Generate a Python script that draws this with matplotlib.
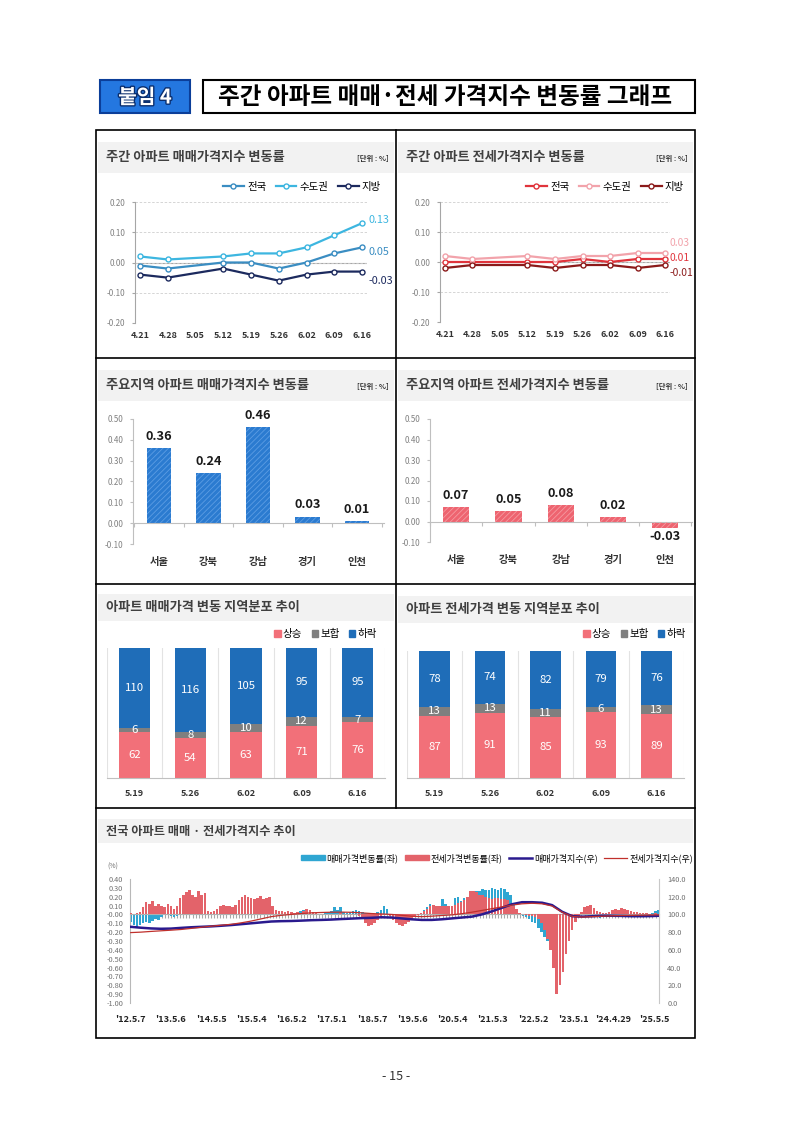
import numpy as np
import matplotlib
matplotlib.use('Agg')
import matplotlib.pyplot as plt
import matplotlib.patheffects as pe
from matplotlib.patches import Rectangle, Patch
from matplotlib.lines import Line2D
from matplotlib.ticker import MultipleLocator, NullLocator, FormatStrFormatter

plt.rcParams['font.family'] = ['Noto Sans CJK KR', 'DejaVu Sans']
plt.rcParams['axes.unicode_minus'] = False
plt.rcParams['hatch.linewidth'] = 0.6

# ---- weekly change rates (%), 5.05 not surveyed ----
weeks = ['4.21', '4.28', '5.05', '5.12', '5.19', '5.26', '6.02', '6.09', '6.16']
sale_nation = [-0.01, -0.02, None, 0.00, 0.00, -0.02, 0.00, 0.03, 0.05]
sale_capital = [0.02, 0.01, None, 0.02, 0.03, 0.03, 0.05, 0.09, 0.13]
sale_local = [-0.04, -0.05, None, -0.02, -0.04, -0.06, -0.04, -0.03, -0.03]
jeonse_nation = [0.00, 0.00, None, 0.00, 0.00, 0.01, 0.00, 0.01, 0.01]
jeonse_capital = [0.02, 0.01, None, 0.02, 0.01, 0.02, 0.02, 0.03, 0.03]
jeonse_local = [-0.02, -0.01, None, -0.01, -0.02, -0.01, -0.01, -0.02, -0.01]
line_names = ['전국', '수도권', '지방']

# ---- main regions ----
regions = ['서울', '강북', '강남', '경기', '인천']
sale_region = [0.36, 0.24, 0.46, 0.03, 0.01]
jeonse_region = [0.07, 0.05, 0.08, 0.02, -0.03]

# ---- number of regions up / flat / down ----
dist_weeks = ['5.19', '5.26', '6.02', '6.09', '6.16']
sale_up = [62, 54, 63, 71, 76]
sale_flat = [6, 8, 10, 12, 7]
sale_down = [110, 116, 105, 95, 95]
jeonse_up = [87, 91, 85, 93, 89]
jeonse_flat = [13, 13, 11, 6, 13]
jeonse_down = [78, 74, 82, 79, 76]

# ---- long-run series, week 0 = 2012.5.7 ----
rate_step = 4   # rates read every 4 weeks
sale_rate = [
    -0.08, -0.12, -0.15, -0.12, -0.10, -0.08, -0.10, -0.07, -0.05, -0.06, -0.03, -0.01, 0.01,
    -0.02, -0.03, -0.02, 0.01, 0.02, 0.04, 0.05, 0.04, 0.03, 0.06, 0.08, 0.07, 0.02,
    0.01, 0.02, 0.03, 0.06, 0.09, 0.07, 0.06, 0.04, 0.05, 0.08, 0.10, 0.14, 0.12,
    0.10, 0.10, 0.12, 0.13, 0.10, 0.12, 0.09, 0.04, 0.02, 0.01, 0.01, 0.01, 0.02,
    0.02, 0.02, 0.03, 0.04, 0.05, 0.06, 0.04, 0.02, 0.01, 0.01, 0.01, 0.02, 0.03,
    0.04, 0.08, 0.05, 0.08, 0.03, 0.02, 0.03, 0.04, 0.05, 0.04, 0.03, 0.02, 0.02,
    0.01, 0.01, 0.03, 0.05, 0.10, 0.06, 0.00, -0.04, -0.06, -0.08, -0.09, -0.07, -0.05,
    -0.04, -0.02, 0.00, 0.02, 0.05, 0.08, 0.12, 0.09, 0.07, 0.10, 0.17, 0.12, 0.06,
    0.09, 0.18, 0.20, 0.15, 0.18, 0.15, 0.22, 0.25, 0.27, 0.26, 0.29, 0.28, 0.28,
    0.30, 0.29, 0.28, 0.30, 0.29, 0.25, 0.22, 0.12, 0.04, 0.00, -0.02, -0.03, -0.05,
    -0.08, -0.10, -0.15, -0.20, -0.25, -0.30, -0.40, -0.55, -0.70, -0.65, -0.50, -0.35, -0.25,
    -0.15, -0.08, -0.03, 0.00, 0.03, 0.05, 0.04, 0.00, -0.03, -0.04, -0.03, -0.02, -0.01,
    0.01, 0.02, 0.03, 0.02, 0.00, -0.01, -0.02, -0.02, -0.01, -0.01, 0.00, 0.00, 0.01,
    0.02, 0.04, 0.05]
jeonse_rate = [
    0.02, 0.01, 0.02, 0.03, 0.08, 0.14, 0.12, 0.15, 0.10, 0.12, 0.10, 0.08, 0.12,
    0.10, 0.06, 0.10, 0.18, 0.22, 0.25, 0.28, 0.22, 0.20, 0.26, 0.22, 0.24, 0.04,
    0.03, 0.04, 0.06, 0.09, 0.11, 0.09, 0.10, 0.08, 0.11, 0.16, 0.20, 0.22, 0.20,
    0.18, 0.17, 0.19, 0.21, 0.17, 0.19, 0.20, 0.10, 0.05, 0.04, 0.04, 0.03, 0.04,
    0.03, 0.02, 0.03, 0.02, 0.04, 0.06, 0.05, 0.03, 0.02, 0.01, 0.01, 0.01, 0.01,
    0.01, 0.01, 0.01, 0.02, 0.01, 0.01, 0.00, 0.00, 0.00, -0.02, -0.05, -0.10, -0.13,
    -0.12, -0.10, -0.06, -0.03, 0.00, 0.01, -0.02, -0.06, -0.10, -0.12, -0.13, -0.11, -0.08,
    -0.05, -0.03, -0.01, 0.02, 0.04, 0.06, 0.09, 0.11, 0.10, 0.09, 0.10, 0.10, 0.09,
    0.10, 0.11, 0.13, 0.14, 0.16, 0.20, 0.27, 0.27, 0.25, 0.22, 0.22, 0.20, 0.18,
    0.17, 0.18, 0.18, 0.17, 0.17, 0.16, 0.12, 0.10, 0.06, 0.02, 0.00, -0.01, -0.02,
    -0.02, -0.03, -0.05, -0.10, -0.18, -0.28, -0.40, -0.60, -0.90, -0.80, -0.65, -0.45, -0.30,
    -0.18, -0.08, -0.02, 0.03, 0.08, 0.10, 0.11, 0.07, 0.04, 0.03, 0.02, 0.02, 0.03,
    0.05, 0.06, 0.05, 0.07, 0.06, 0.05, 0.04, 0.03, 0.03, 0.02, 0.02, 0.02, 0.01,
    0.01, 0.02, 0.01]
index_weeks = [0, 13, 26, 39, 52, 65, 78, 91, 104, 117, 130, 143, 156, 169, 182, 195, 208, 221,
               234, 247, 260, 273, 286, 299, 312, 325, 338, 351, 364, 377, 390, 403, 416, 429,
               442, 455, 468, 481, 494, 507, 520, 533, 546, 559, 572, 585, 598, 611, 624, 637,
               650, 663, 676, 684]
sale_index = [86.0, 85.0, 84.2, 83.8, 84.0, 84.8, 85.5, 86.0, 86.5, 87.2, 88.0, 89.0, 90.0, 91.0,
              92.0, 92.4, 92.6, 93.0, 93.5, 93.8, 94.2, 94.8, 95.3, 95.8, 96.2, 96.8, 96.5, 95.5,
              94.5, 93.8, 93.8, 94.5, 95.5, 96.5, 97.5, 100.0, 103.5, 107.5, 111.5, 113.8, 113.8,
              113.2, 110.5, 103.0, 98.0, 97.5, 98.0, 98.5, 98.5, 98.3, 98.0, 98.0, 98.2, 98.5]
jeonse_index = [79.5, 80.0, 80.8, 81.5, 82.2, 83.0, 84.2, 85.5, 86.7, 87.8, 88.8, 90.5, 92.5, 95.0,
                97.5, 99.0, 100.0, 101.0, 101.8, 102.2, 102.5, 102.6, 102.4, 101.8, 101.0, 100.5,
                100.0, 99.0, 98.0, 97.5, 98.0, 98.8, 99.5, 100.8, 102.5, 104.5, 106.5, 108.5,
                110.5, 112.0, 112.6, 112.0, 109.5, 102.5, 97.8, 97.0, 97.5, 98.0, 98.5, 98.8,
                99.0, 99.2, 99.4, 99.5]
year_ticks = [0, 52, 104, 156, 208, 260, 313, 365, 417, 469, 521, 573, 625, 678]
year_labels = ["'12.5.7", "'13.5.6", "'14.5.5", "'15.5.4", "'16.5.2", "'17.5.1", "'18.5.7",
               "'19.5.6", "'20.5.4", "'21.5.3", "'22.5.2", "'23.5.1", "'24.4.29", "'25.5.5"]

W, H = 793, 1121
fig = plt.figure(figsize=(W / 100, H / 100), dpi=100)


def fx(x):
    return x / W


def fy(y):
    return 1 - y / H


def ax_at(x0, y0, x1, y1):
    return fig.add_axes([fx(x0), fy(y1), (x1 - x0) / W, (y1 - y0) / H])


def rect(x0, y0, x1, y1, **kw):
    fig.add_artist(Rectangle((fx(x0), fy(y1)), (x1 - x0) / W, (y1 - y0) / H,
                             transform=fig.transFigure, **kw))


def fline(xs, ys, **kw):
    fig.add_artist(Line2D([fx(v) for v in xs], [fy(v) for v in ys],
                          transform=fig.transFigure, **kw))


def panel_title(x0, x1, y0, y1, title, unit=None, size=9.5):
    rect(x0, y0, x1, y1, facecolor='#F2F2F2', edgecolor='none')
    fig.text(fx(x0 + 8), fy((y0 + y1) / 2), title, fontsize=size, color='#404040',
             va='center', ha='left', fontweight='bold')
    if unit:
        fig.text(fx(x1 - 5), fy((y0 + y1) / 2 + 1), unit, fontsize=5.3, color='#333333',
                 va='center', ha='right', fontweight='bold')


def line_panel(box, series, colors, dys, legend_right, dx, label_size):
    ax = ax_at(*box)
    handles = []
    for vals, c, name, dy in zip(series, colors, line_names, dys):
        xs = [i for i, v in enumerate(vals) if v is not None]
        ys = [v for v in vals if v is not None]
        h, = ax.plot(xs, ys, color=c, lw=1.6, marker='o', ms=3.6, mfc='white',
                     mec=c, mew=1.0, label=name, zorder=3)
        handles.append(h)
        ax.annotate(f'{ys[-1]:.2f}', (xs[-1], ys[-1]), xytext=(dx, dy),
                    textcoords='offset points', color=c, fontsize=label_size,
                    va='center', ha='left', annotation_clip=False)
    ax.set_xlim(-0.18, len(weeks) - 1 + 0.18)
    ax.set_ylim(-0.2, 0.2)
    ax.set_yticks(np.arange(-0.2, 0.21, 0.1))
    ax.yaxis.set_major_formatter(FormatStrFormatter('%.2f'))
    ax.set_xticks(range(len(weeks)), weeks)
    ax.grid(axis='y', linestyle=(0, (3, 2)), color='#CFCFCF', lw=0.6)
    ax.axhline(0, color='#A6A6A6', lw=0.8, zorder=1)
    for s in ['top', 'right', 'bottom']:
        ax.spines[s].set_visible(False)
    ax.spines['left'].set_color('#A6A6A6')
    ax.tick_params(axis='y', length=2, color='#A6A6A6', labelsize=5.8,
                   labelcolor='#808080', pad=5)
    ax.tick_params(axis='x', length=0, labelsize=6.5, labelcolor='#333333', pad=6)
    for t in ax.get_xticklabels():
        t.set_fontweight('bold')
    ax.legend(handles=handles, ncol=3, loc='center right',
              bbox_to_anchor=(fx(legend_right), fy(187)), bbox_transform=fig.transFigure,
              frameon=False, fontsize=7.5, handlelength=2.0, handletextpad=0.3,
              columnspacing=0.9, borderaxespad=0, borderpad=0)
    return ax


def bar_panel(box, xlim, vals, color, hatch_color):
    ax = ax_at(*box)
    x = np.arange(len(regions))
    ax.bar(x, vals, width=0.5, color=color, linewidth=0, zorder=2)
    ax.bar(x, vals, width=0.5, fill=False, hatch='//////', edgecolor=hatch_color,
           linewidth=0, zorder=3)
    for i, v in enumerate(vals):
        ax.annotate(f'{v:.2f}', (i, v), xytext=(0, 4 if v >= 0 else -2),
                    textcoords='offset points', ha='center',
                    va='bottom' if v >= 0 else 'top', fontsize=9.2, fontweight='bold',
                    color='#1A1A1A')
        ax.text(i, -0.145, regions[i], transform=ax.get_xaxis_transform(),
                ha='center', va='center', fontsize=7.4, fontweight='bold', color='#333333')
    ax.set_xlim(*xlim)
    ax.set_ylim(-0.10, 0.50)
    ax.set_yticks(np.arange(-0.1, 0.51, 0.1))
    ax.yaxis.set_major_formatter(FormatStrFormatter('%.2f'))
    ax.spines['bottom'].set_position(('data', 0))
    ax.spines['bottom'].set_color('#BFBFBF')
    ax.spines['left'].set_color('#BFBFBF')
    ax.spines['top'].set_visible(False)
    ax.spines['right'].set_visible(False)
    ax.set_xticks(np.arange(len(regions) + 1) - 0.5)
    ax.set_xticklabels([])
    ax.tick_params(axis='x', length=3, color='#BFBFBF')
    ax.tick_params(axis='y', length=2, color='#BFBFBF', labelsize=5.8,
                   labelcolor='#808080', pad=5)
    return ax


def dist_panel(box, up, flat, down, legend_right):
    ax = ax_at(*box)
    x = np.arange(len(dist_weeks))
    c_up, c_flat, c_down = '#F27079', '#7F7F7F', '#1F6DB8'
    b1 = ax.bar(x, up, width=0.556, color=c_up, linewidth=0, zorder=2)
    b2 = ax.bar(x, flat, bottom=up, width=0.556, color=c_flat, linewidth=0, zorder=2)
    b3 = ax.bar(x, down, bottom=np.add(up, flat), width=0.556, color=c_down,
                linewidth=0, zorder=2)
    for b in (b1, b2, b3):
        ax.bar_label(b, label_type='center', color='white', fontsize=8.2)
    for i, w in enumerate(dist_weeks):
        ax.text(i, -0.125, w, transform=ax.get_xaxis_transform(), ha='center',
                va='center', fontsize=6.6, fontweight='bold', color='#333333')
    ax.set_xlim(-0.5, len(dist_weeks) - 0.5)
    ax.set_ylim(0, np.add(np.add(up, flat), down).max())
    ax.set_xticks(np.arange(len(dist_weeks) + 1) - 0.5, minor=True)
    ax.grid(which='minor', axis='x', color='#E3E3E3', lw=0.8, zorder=0)
    ax.set_xticks([])
    ax.set_yticks([])
    for s in ['top', 'right', 'left']:
        ax.spines[s].set_visible(False)
    ax.spines['bottom'].set_color('#C0C0C0')
    ax.tick_params(which='both', length=0)
    handles = [Patch(color=c) for c in (c_up, c_flat, c_down)]
    ax.legend(handles, ['상승', '보합', '하락'], ncol=3, loc='center right',
              bbox_to_anchor=(fx(legend_right), fy(634)), bbox_transform=fig.transFigure,
              frameon=False, fontsize=7.6, handlelength=0.6, handleheight=0.6,
              handletextpad=0.2, columnspacing=0.9, borderaxespad=0, borderpad=0)
    return ax


# ---- header ----
rect(100, 80, 190, 113, facecolor='#2477E0', edgecolor='#0B3E99', lw=1.5)
fig.text(fx(145), fy(97), '붙임 4', fontsize=14.5, fontweight='bold', color='white',
         ha='center', va='center',
         path_effects=[pe.withStroke(linewidth=2, foreground='#0A2E6E')])
rect(203, 80, 695, 113, facecolor='white', edgecolor='black', lw=1.5)
fig.text(fx(445), fy(97), '주간 아파트 매매·전세 가격지수 변동률 그래프', fontsize=17,
         fontweight='bold', color='black', ha='center', va='center')

# ---- frame ----
rect(96, 130, 695, 1038, facecolor='none', edgecolor='black', lw=1.2)
fline([396, 396], [130, 808], color='black', lw=1.2)
for yy in (358, 584, 808):
    fline([96, 695], [yy, yy], color='black', lw=1.2)

# ---- row 1: weekly line charts ----
panel_title(98, 394, 142, 173, '주간 아파트 매매가격지수 변동률', '[단위 : %]')
panel_title(398, 693, 142, 173, '주간 아파트 전세가격지수 변동률', '[단위 : %]')
line_panel((135, 202, 367, 323), [sale_nation, sale_capital, sale_local],
           ['#3A8DC2', '#3DB6E0', '#1C2A5E'], [-3, 2, -7], 381, 5, 7.8)
line_panel((440, 202, 670, 322), [jeonse_nation, jeonse_capital, jeonse_local],
           ['#E0343C', '#F2A3AB', '#8B1A1A'], [1, 7, -6], 684, 3, 7.4)

# ---- row 2: main regions ----
panel_title(98, 394, 370, 401, '주요지역 아파트 매매가격지수 변동률', '[단위 : %]')
panel_title(398, 693, 370, 401, '주요지역 아파트 전세가격지수 변동률', '[단위 : %]')
bar_panel((133, 419, 384, 544), (-0.525, 4.545), sale_region, '#2B7BD0', '#5C9DE3')
bar_panel((430, 419, 692, 542), (-0.48, 4.51), jeonse_region, '#EE6470', '#F59AA1')

# ---- row 3: distribution ----
panel_title(98, 394, 594, 621, '아파트 매매가격 변동 지역분포 추이')
panel_title(398, 693, 596, 623, '아파트 전세가격 변동 지역분포 추이')
dist_panel((106.6, 647.7, 385.4, 777.7), sale_up, sale_flat, sale_down, 377)
dist_panel((406.7, 651, 684.2, 777.7), jeonse_up, jeonse_flat, jeonse_down, 686)

# ---- row 4: long-run trend ----
panel_title(98, 693, 819, 843, '전국 아파트 매매 · 전세가격지수 추이', size=8.8)
ax4 = ax_at(130, 879, 659, 1003)
rate_x = np.arange(len(sale_rate)) * rate_step
c_sale, c_jeonse = '#2FA6D2', '#E3636A'
ax4.bar(rate_x, sale_rate, width=3.3, color=c_sale, linewidth=0, zorder=2)
ax4.bar(rate_x, jeonse_rate, width=3.3, color=c_jeonse, linewidth=0, zorder=3)
ax4.set_xlim(-1, 684.5)
ax4.set_ylim(-1.0, 0.4)
ax4.set_yticks(np.arange(-1.0, 0.41, 0.1))
ax4.yaxis.set_major_formatter(FormatStrFormatter('%.2f'))
ax4.tick_params(axis='y', length=0, labelsize=5.3, labelcolor='#707070', pad=5)
ax4.spines['bottom'].set_position(('data', 0))
ax4.spines['bottom'].set_color('#B0B0B0')
ax4.spines['left'].set_color('#B8B8B8')
ax4.spines['top'].set_visible(False)
ax4.spines['right'].set_visible(False)
ax4.xaxis.set_major_locator(NullLocator())
ax4.xaxis.set_minor_locator(MultipleLocator(rate_step))
ax4.tick_params(axis='x', which='minor', length=3, width=0.8, color='#A8A8A8')
sec = ax4.secondary_xaxis('bottom')
sec.set_xticks(year_ticks, year_labels)
sec.tick_params(length=0, labelsize=6.6, labelcolor='#222222', pad=9)
for t in sec.get_xticklabels():
    t.set_fontweight('bold')
sec.spines['bottom'].set_visible(False)

ax4r = ax4.twinx()
ax4r.plot(index_weeks, sale_index, color='#2A1A8E', lw=1.8, zorder=4)
ax4r.plot(index_weeks, jeonse_index, color='#C0302C', lw=0.9, zorder=5)
ax4r.set_ylim(0, 140)
ax4r.set_yticks(np.arange(0, 141, 20))
ax4r.yaxis.set_major_formatter(FormatStrFormatter('%.1f'))
ax4r.tick_params(axis='y', length=0, labelsize=5.3, labelcolor='#707070', pad=6)
for s in ['top', 'left', 'bottom']:
    ax4r.spines[s].set_visible(False)
ax4r.spines['right'].set_color('#C8C8C8')
fig.text(fx(113), fy(867), '(%)', fontsize=5, color='#707070', ha='center', va='center')

leg_handles = [Patch(color=c_sale), Patch(color=c_jeonse),
               Line2D([], [], color='#2A1A8E', lw=1.8), Line2D([], [], color='#C0302C', lw=0.9)]
leg_labels = ['매매가격변동률(좌)', '전세가격변동률(좌)', '매매가격지수(우)', '전세가격지수(우)']
ax4.legend(leg_handles, leg_labels, ncol=4, loc='center right',
           bbox_to_anchor=(fx(693), fy(858)), bbox_transform=fig.transFigure,
           frameon=False, fontsize=6.5, handlelength=2.6, handleheight=0.5,
           handletextpad=0.2, columnspacing=0.7, borderaxespad=0, borderpad=0)

# ---- page number ----
fig.text(fx(396), fy(1077), '- 15 -', fontsize=9, color='#333333', ha='center', va='center')

fig.savefig('out.png', dpi=100, facecolor='white')
